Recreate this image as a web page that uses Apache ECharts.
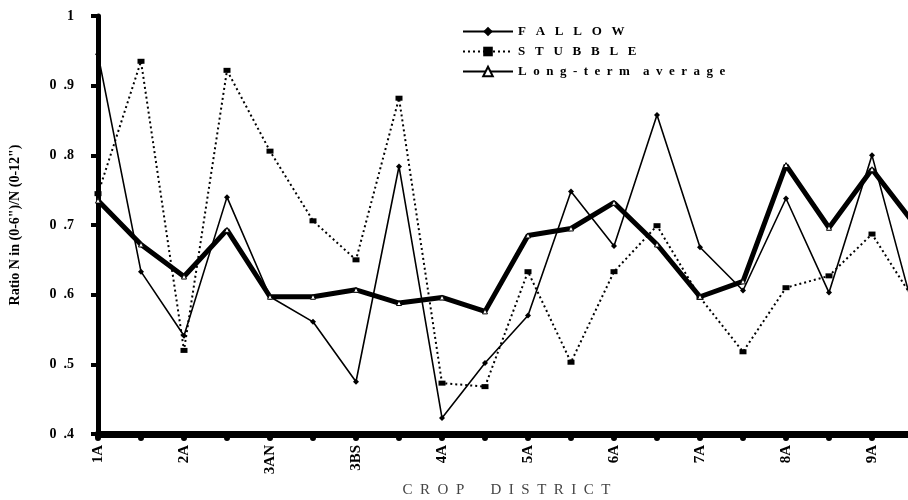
<!DOCTYPE html>
<html>
<head>
<meta charset="utf-8">
<script src="https://cdn.jsdelivr.net/npm/echarts@6/dist/echarts.min.js"></script>
<style>
html,body{margin:0;padding:0;background:#fff;}
#chart{width:908px;height:500px;}
</style>
</head>
<body>
<div id="chart"></div>
<script>
var categories = ['1A','1B','2A','2B','3AN','3AS','3BS','3BN','4A','4B','5A','5B','6A','6B','7A','7B','8A','8B','9A','9B'];
var fallow  = [0.945,0.633,0.541,0.740,0.597,0.561,0.475,0.784,0.423,0.502,0.570,0.748,0.670,0.858,0.668,0.606,0.738,0.603,0.800,0.570];
var stubble = [0.745,0.935,0.520,0.922,0.806,0.706,0.650,0.882,0.473,0.468,0.633,0.503,0.633,0.699,0.596,0.518,0.610,0.627,0.687,0.590];
var average = [0.735,0.672,0.626,0.693,0.597,0.597,0.607,0.588,0.596,0.576,0.685,0.695,0.732,0.672,0.597,0.619,0.786,0.696,0.780,0.700];
var yTicks = [0.4,0.5,0.6,0.7,0.8,0.9,1.0];
var yTickLabels = ['0  .4','0  .5','0  .6','0  .7','0  .8','0  .9','1'];
var seriesNames = ['F   A   L   L   O   W','S   T   U   B   B   L   E','L  o  n  g  -  t  e  r  m    a  v  e  r  a  g  e'];

var chart = echarts.init(document.getElementById('chart'), null, {renderer:'canvas'});
var serif = '"Liberation Serif", "DejaVu Serif", serif';
chart.setOption({
  animation:false,
  backgroundColor:'#fff',
  grid:{left:98, width:817, top:16, height:418, containLabel:false, outerBoundsMode:'none'},
  legend:{
    orient:'vertical', left:457, top:20, itemGap:7, itemWidth:50, itemHeight:12,
    textStyle:{fontFamily:serif, fontWeight:'bold', fontSize:13, color:'#000'},
    data:seriesNames
  },
  xAxis:{
    type:'category', data:categories, boundaryGap:false,
    name:'C  R  O  P       D  I  S  T  R  I  C  T', nameLocation:'middle', nameGap:48,
    nameTextStyle:{fontFamily:serif, fontSize:15, color:'#444'},
    axisLine:{lineStyle:{color:'#000', width:7}},
    axisTick:{show:true, interval:0, length:4, lineStyle:{color:'#000', width:6, cap:'round'}},
    axisLabel:{interval:1, rotate:90, margin:11, fontFamily:serif, fontWeight:'bold', fontSize:15, color:'#000'},
    splitLine:{show:false}
  },
  yAxis:{
    type:'value', min:0.4, max:1, interval:0.1,
    name:'Ratio N in (0-6")/N (0-12")', nameLocation:'middle', nameGap:76, nameRotate:90,
    nameTextStyle:{fontFamily:serif, fontWeight:'bold', fontSize:14, color:'#000'},
    axisLine:{show:true, lineStyle:{color:'#000', width:5}},
    axisTick:{show:true, length:7, lineStyle:{color:'#000', width:4}},
    axisLabel:{margin:24, fontFamily:serif, fontWeight:'bold', fontSize:14, color:'#000',
      formatter:function(v){
        for (var i=0;i<yTicks.length;i++){ if (Math.abs(yTicks[i]-v)<1e-6) return yTickLabels[i]; }
        return '';
      }},
    splitLine:{show:false}
  },
  series:[
    {name:seriesNames[0], type:'line', data:fallow, symbol:'diamond', symbolSize:6,
     lineStyle:{color:'#000', width:1.6}, itemStyle:{color:'#000'}, z:3},
    {name:seriesNames[1], type:'line', data:stubble, symbol:'rect', symbolSize:[7,5],
     lineStyle:{color:'#000', width:2, type:[2,3]}, itemStyle:{color:'#000'}, z:2},
    {name:seriesNames[2], type:'line', data:average, symbol:'triangle', symbolSize:5,
     lineStyle:{color:'#000', width:5}, itemStyle:{color:'#fff', borderColor:'#000', borderWidth:1}, z:4}
  ]
});
</script>
</body>
</html>
